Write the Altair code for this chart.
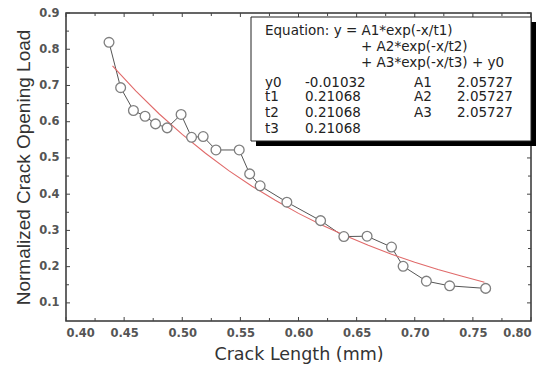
import altair as alt
import pandas as pd

# measured data (crack length mm, normalized crack opening load)
crack_length = [0.437, 0.447, 0.458, 0.468, 0.477, 0.487, 0.499, 0.508, 0.518, 0.529,
                0.549, 0.558, 0.567, 0.590, 0.619, 0.639, 0.659, 0.680, 0.690, 0.710,
                0.730, 0.761]
opening_load = [0.819, 0.694, 0.631, 0.615, 0.594, 0.583, 0.620, 0.557, 0.559, 0.522,
                0.522, 0.456, 0.423, 0.378, 0.327, 0.283, 0.284, 0.254, 0.201, 0.160,
                0.147, 0.140]

# fitted curve (red line) read along its length
fit_x = [0.44, 0.46, 0.48, 0.50, 0.52, 0.54, 0.56, 0.58, 0.60, 0.62, 0.64, 0.66,
         0.68, 0.70, 0.72, 0.74, 0.76]
fit_y = [0.754, 0.685, 0.622, 0.565, 0.513, 0.465, 0.422, 0.383, 0.347, 0.315,
         0.286, 0.259, 0.234, 0.212, 0.192, 0.174, 0.157]

x_major = [0.40, 0.45, 0.50, 0.55, 0.60, 0.65, 0.70, 0.75, 0.80]
x_minor = [0.425, 0.475, 0.525, 0.575, 0.625, 0.675, 0.725, 0.775]
y_major = [0.1, 0.2, 0.3, 0.4, 0.5, 0.6, 0.7, 0.8, 0.9]
y_minor = [0.15, 0.25, 0.35, 0.45, 0.55, 0.65, 0.75, 0.85]

eq_lines = ["Equation: y = A1*exp(-x/t1)", "+ A2*exp(-x/t2)", "+ A3*exp(-x/t3) + y0"]
param_names_left = ["y0", "t1", "t2", "t3"]
param_vals_left = ["-0.01032", "0.21068", "0.21068", "0.21068"]
param_names_right = ["A1", "A2", "A3"]
param_vals_right = ["2.05727", "2.05727", "2.05727"]

W, H = 465, 308
FONT = "DejaVu Sans"

xs = alt.Scale(domain=[0.40, 0.80], nice=False, zero=False)
ys = alt.Scale(domain=[0.05, 0.90], nice=False, zero=False)

x_axis = alt.Axis(values=x_major, format=".2f", title="Crack Length (mm)",
                  ticks=False, domain=False, grid=False, labelPadding=6,
                  labelFontSize=11.5, labelFontWeight="bold", labelColor="#555555",
                  titleFontSize=17.5, titleFontWeight="normal", titleColor="#333333",
                  titlePadding=7, labelFont=FONT, titleFont=FONT)
y_axis = alt.Axis(values=y_major, format=".1f", title="Normalized Crack Opening Load",
                  ticks=False, domain=False, grid=False, labelPadding=7,
                  labelFontSize=11.5, labelFontWeight="bold", labelColor="#555555",
                  titleFontSize=19, titleFontWeight="normal", titleColor="#333333",
                  titlePadding=5, labelFont=FONT, titleFont="Liberation Sans")

def X(f):
    return alt.X(f, scale=xs, axis=x_axis)

def Y(f):
    return alt.Y(f, scale=ys, axis=y_axis)

pts = pd.DataFrame({"x": crack_length, "y": opening_load})
fit = pd.DataFrame({"x": fit_x, "y": fit_y})

data_line = alt.Chart(pts).mark_line(color="#555555", strokeWidth=1).encode(x=X("x:Q"), y=Y("y:Q"))
fit_line = alt.Chart(fit).mark_line(color="#e06a6a", strokeWidth=1.1).encode(x=X("x:Q"), y=Y("y:Q"))
points = alt.Chart(pts).mark_point(shape="circle", size=95, filled=True, fill="white",
                                   stroke="#7f7f7f", strokeWidth=1.3, opacity=1).encode(
    x=X("x:Q"), y=Y("y:Q"))

layers = [data_line, fit_line, points]

# inward ticks
tick_color = "#444444"
def xticks(vals, ln):
    d = pd.DataFrame({"v": vals})
    b = alt.Chart(d).mark_rule(color=tick_color, strokeWidth=1)
    return [b.encode(x=X("v:Q"), y=alt.value(H), y2=alt.value(H - ln)),
            b.encode(x=X("v:Q"), y=alt.value(0), y2=alt.value(ln))]

def yticks(vals, ln):
    d = pd.DataFrame({"v": vals})
    b = alt.Chart(d).mark_rule(color=tick_color, strokeWidth=1)
    return [b.encode(y=Y("v:Q"), x=alt.value(0), x2=alt.value(ln)),
            b.encode(y=Y("v:Q"), x=alt.value(W), x2=alt.value(W - ln))]

layers += xticks(x_major, 4) + xticks(x_minor, 3) + yticks(y_major, 4) + yticks(y_minor, 3)

# annotation box with shadow
one = pd.DataFrame({"k": [0]})
shadow = alt.Chart(one).mark_rect(color="black").encode(
    x=alt.value(190), x2=alt.value(470), y=alt.value(9), y2=alt.value(133))
box = alt.Chart(one).mark_rect(fill="white", stroke="#222222", strokeWidth=1).encode(
    x=alt.value(185), x2=alt.value(465), y=alt.value(4), y2=alt.value(128))
layers += [shadow, box]

def txt(s, x, y):
    return alt.Chart(one).mark_text(text=s, align="left", baseline="middle", font=FONT,
                                    fontSize=13.5, color="#222222").encode(
        x=alt.value(x), y=alt.value(y))

eq_pos = [(199, 18), (295, 34), (295, 49.5)]
for s, (x, y) in zip(eq_lines, eq_pos):
    layers.append(txt(s, x, y))
left_y = [69.5, 84, 99.5, 115.5]
for n, v, y in zip(param_names_left, param_vals_left, left_y):
    layers.append(txt(n, 199, y))
    layers.append(txt(v, 239, y))
for n, v, y in zip(param_names_right, param_vals_right, left_y[:3]):
    layers.append(txt(n, 348, y))
    layers.append(txt(v, 391, y))

chart = alt.layer(*layers).properties(
    width=W, height=H,
    autosize=alt.AutoSizeParams(type="none"),
    padding={"left": 66, "top": 13, "right": 21, "bottom": 46},
    background="white",
).configure_view(stroke="#333333", strokeWidth=1.5)

chart.save("out.html", embed_options={"renderer": "svg", "actions": False})
